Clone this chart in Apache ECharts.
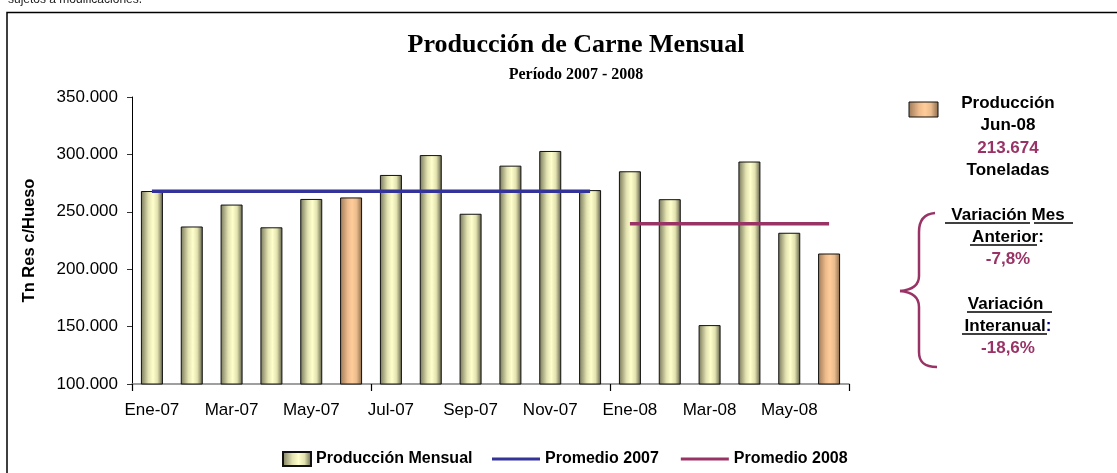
<!DOCTYPE html>
<html>
<head>
<meta charset="utf-8">
<script src="https://cdn.jsdelivr.net/npm/echarts@6/dist/echarts.min.js"></script>
<style>
  html, body { margin: 0; padding: 0; background: #fff; }
  #chart { width: 1117px; height: 473px; }
</style>
</head>
<body>
<div id="chart"></div>
<script>
  // Producción mensual de carne (tn res c/hueso)
  const meses = [
    'Ene-07', 'Feb-07', 'Mar-07', 'Abr-07', 'May-07', 'Jun-07',
    'Jul-07', 'Ago-07', 'Sep-07', 'Oct-07', 'Nov-07', 'Dic-07',
    'Ene-08', 'Feb-08', 'Mar-08', 'Abr-08', 'May-08', 'Jun-08'
  ]
  const produccion = [
    268100, 237200, 256300, 236500, 261200, 262500,
    282100, 299400, 248300, 290200, 303000, 268900,
    285300, 261000, 151300, 293800, 231750, 213674
  ]
  const promedio2007 = [
    267800, 267800, 267800, 267800, 267800, 267800,
    267800, 267800, 267800, 267800, 267800, 267800
  ]
  const promedio2008 = [null, null, null, null, null, null,
    null, null, null, null, null, null,
    239500, 239500, 239500, 239500, 239500, 239500]
  const destacados = ['Jun-07', 'Jun-08']
  const yTicks = [100000, 150000, 200000, 250000, 300000, 350000]

  const fmt = v => String(v).replace(/\B(?=(\d{3})+(?!\d))/g, '.')

  const verde = new echarts.graphic.LinearGradient(0, 0, 1, 0, [
    { offset: 0, color: '#77775c' },
    { offset: 0.35, color: '#e4e4b2' },
    { offset: 0.55, color: '#ffffcc' },
    { offset: 0.75, color: '#e2e2b0' },
    { offset: 1, color: '#5c5c46' }
  ])
  const naranja = new echarts.graphic.LinearGradient(0, 0, 1, 0, [
    { offset: 0, color: '#9c7a58' },
    { offset: 0.35, color: '#eebb8c' },
    { offset: 0.55, color: '#ffcc99' },
    { offset: 0.75, color: '#eabb8c' },
    { offset: 1, color: '#8a6a4a' }
  ])

  const magenta = '#993366'
  const fuente = 'bold 17px "Liberation Sans", Arial, sans-serif'
  const txt = (text, y, color, rich) => ({
    type: 'text',
    x: 1008,
    y: y,
    style: {
      text: text,
      fill: color || '#000',
      font: fuente,
      align: 'center',
      verticalAlign: 'middle',
      rich: rich
    }
  })
  const subrayado = (x1, x2, y) => ({
    type: 'line',
    shape: { x1: x1, y1: y, x2: x2, y2: y },
    style: { stroke: '#000', lineWidth: 1.5 }
  })
  const llave = { fill: 'none', stroke: magenta, lineWidth: 2.5 }
  const curva = (x1, y1, cpx1, cpy1, cpx2, cpy2, x2, y2) => ({
    type: 'bezierCurve',
    shape: { x1, y1, cpx1, cpy1, cpx2, cpy2, x2, y2 },
    style: llave
  })
  const recta = (x1, y1, x2, y2) => ({
    type: 'line',
    shape: { x1, y1, x2, y2 },
    style: llave
  })

  const chart = echarts.init(document.getElementById('chart'))

  chart.setOption({
    animation: false,
    title: [{
      text: 'Producción de Carne Mensual',
      left: 571,
      top: 27,
      textAlign: 'center',
      textStyle: { fontFamily: '"Liberation Serif", "Times New Roman", serif', fontWeight: 'bold', fontSize: 26, color: '#000' }
    }, {
      text: 'Período 2007 - 2008',
      left: 571,
      top: 62,
      textAlign: 'center',
      textStyle: { fontFamily: '"Liberation Serif", "Times New Roman", serif', fontWeight: 'bold', fontSize: 16, color: '#000' }
    }],
    grid: { left: 132, right: 268, top: 97, bottom: 89 },
    legend: [{
      data: [{ name: 'Producción Mensual', icon: 'rect' }],
      left: 277,
      top: 446,
      itemWidth: 28,
      itemHeight: 14,
      itemGap: 6,
      textStyle: { fontFamily: '"Liberation Sans", Arial, sans-serif', fontWeight: 'bold', fontSize: 16, color: '#000' }
    }, {
      data: ['Promedio 2007', 'Promedio 2008'],
      icon: 'rect',
      left: 487,
      top: 446,
      itemWidth: 48,
      itemHeight: 3,
      itemGap: 22,
      textStyle: { fontFamily: '"Liberation Sans", Arial, sans-serif', fontWeight: 'bold', fontSize: 16, color: '#000' }
    }],
    xAxis: {
      type: 'category',
      data: meses,
      boundaryGap: true,
      axisLine: { lineStyle: { color: '#808080', width: 1.5 } },
      axisTick: { show: true, interval: 5, length: 7, lineStyle: { color: '#000', width: 1.2 } },
      axisLabel: {
        interval: 1,
        margin: 18,
        color: '#000',
        fontFamily: '"Liberation Sans", Arial, sans-serif',
        fontSize: 17
      }
    },
    yAxis: {
      type: 'value',
      min: yTicks[0],
      max: yTicks[yTicks.length - 1],
      interval: 50000,
      name: 'Tn Res c/Hueso',
      nameLocation: 'middle',
      nameRotate: 90,
      nameGap: 94,
      nameTextStyle: { fontFamily: '"Liberation Sans", Arial, sans-serif', fontWeight: 'bold', fontSize: 16.5, color: '#000' },
      axisLine: { show: true, lineStyle: { color: '#000', width: 1 } },
      axisTick: { show: true, length: 5, lineStyle: { color: '#333' } },
      splitLine: { show: false },
      axisLabel: {
        margin: 14,
        color: '#000',
        fontFamily: '"Liberation Sans", Arial, sans-serif',
        fontSize: 17,
        formatter: fmt
      }
    },
    series: [{
      name: 'Producción Mensual',
      type: 'bar',
      barWidth: 22,
      itemStyle: { color: verde, borderColor: '#111', borderWidth: 1 },
      data: produccion.map((v, i) => destacados.includes(meses[i])
        ? { value: v, itemStyle: { color: naranja } }
        : v)
    }, {
      name: 'Promedio 2007',
      type: 'line',
      data: promedio2007,
      symbol: 'none',
      z: 5,
      color: '#333399',
      lineStyle: { color: '#333399', width: 3.5 }
    }, {
      name: 'Promedio 2008',
      type: 'line',
      data: promedio2008,
      symbol: 'none',
      z: 5,
      color: magenta,
      lineStyle: { color: magenta, width: 3.5 }
    }],
    graphic: [
      {
        type: 'rect',
        shape: { x: 7, y: 12.5, width: 1300, height: 600 },
        style: { fill: 'none', stroke: '#000', lineWidth: 1.5 },
        z: -1
      },
      {
        type: 'text',
        x: 8,
        y: 6,
        style: {
          text: 'sujetos a modificaciones.',
          fill: '#222',
          font: '12px "Liberation Sans", Arial, sans-serif',
          verticalAlign: 'bottom'
        }
      },
      {
        type: 'rect',
        shape: { x: 909, y: 102, width: 29, height: 15 },
        style: { fill: naranja, stroke: '#111', lineWidth: 1 }
      },
      txt('Producción', 103),
      txt('Jun-08', 125.5),
      txt('213.674', 148, magenta),
      txt('Toneladas', 170),
      txt(' Variación Mes ', 215),
      subrayado(945, 1030, 223),
      subrayado(1034, 1073, 223),
      txt('Anterior:', 237),
      subrayado(970, 1037, 245),
      txt('-7,8%', 259.5, magenta),
      txt('Variación ', 304),
      subrayado(967, 1052, 312),
      txt('Interanual{c|:}', 326, '#000', { c: { font: fuente, fill: '#000080' } }),
      subrayado(962, 1047, 334),
      txt('-18,6%', 348, magenta),
      curva(935, 213, 923, 214, 919, 222, 919, 232),
      recta(919, 232, 919, 276),
      curva(919, 276, 919, 286, 912, 290, 900, 291),
      curva(900, 291, 912, 292, 919, 297, 919, 307),
      recta(919, 307, 919, 352),
      curva(919, 352, 919, 362, 924, 367, 937, 367)
    ]
  })
</script>
</body>
</html>
